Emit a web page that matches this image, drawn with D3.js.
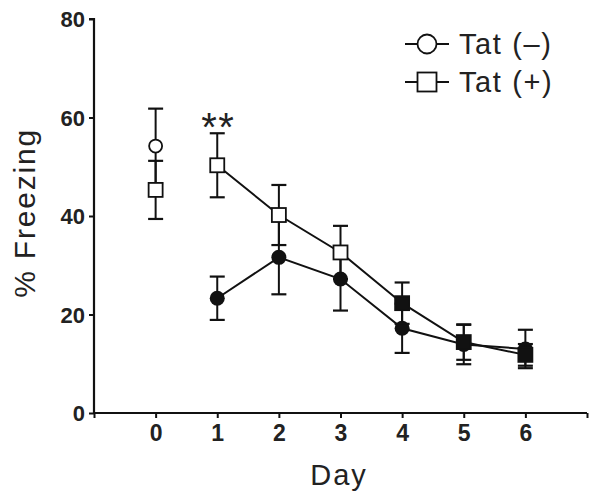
<!DOCTYPE html>
<html>
<head>
<meta charset="utf-8">
<script src="https://cdn.jsdelivr.net/npm/d3@7"></script>
<style>
  html, body { margin: 0; padding: 0; background: #fff; }
  svg { display: block; }
</style>
</head>
<body>
<svg id="chart" width="600" height="499"></svg>
<script>
// ---- Data ----
const days = [0, 1, 2, 3, 4, 5, 6];
const xTickLabels = ["0", "1", "2", "3", "4", "5", "6"];
const yTickValues = [0, 20, 40, 60, 80];
const seriesNames = ["Tat (\u2013)", "Tat (+)"];
const tatMinusMean = [54.2, 23.3, 31.6, 27.2, 17.2, 13.9, 13.0];
const tatMinusSem  = [7.6, 4.4, 7.5, 6.4, 5.0, 4.0, 3.9];
const tatPlusMean  = [45.3, 50.3, 40.2, 32.6, 22.3, 14.4, 11.8];
const tatPlusSem   = [5.9, 6.5, 6.1, 5.4, 4.2, 3.6, 2.2];
const tatMinusOpenDays = [0];
const tatPlusOpenDays = [0, 1, 2, 3];
const lineStartDay = 1;
const annotationDay = 1;
const annotationText = "**";

// ---- Layout ----
const svg = d3.select("#chart");
const x = d3.scaleLinear().domain([-1, 7]).range([94, 587]);
const y = d3.scaleLinear().domain([0, 80]).range([413, 19]);
const ink = "#111";
const textInk = "#222";
const font = "Liberation Sans, Arial, sans-serif";

// axes
const yAxis = d3.axisLeft(y).tickValues(yTickValues).tickSize(5).tickPadding(4).tickFormat(d3.format("d"));
const gy = svg.append("g").attr("transform", `translate(${x(-1)},0)`).call(yAxis);
gy.select(".domain").attr("stroke", ink).attr("stroke-width", 2.2).attr("d", `M-5,${y(80)}H0V${y(0)}`);
gy.selectAll(".tick line").attr("stroke", ink).attr("stroke-width", 2);
gy.selectAll(".tick text").attr("fill", textInk).attr("font-family", font)
  .attr("font-weight", "bold").attr("font-size", 22).attr("dy", "0.36em");

const xAxis = d3.axisBottom(x).tickValues([-1, ...days, 7]).tickSize(5).tickPadding(7)
  .tickFormat(d => { const i = days.indexOf(d); return i >= 0 ? xTickLabels[i] : ""; });
const gx = svg.append("g").attr("transform", `translate(0,${y(0)})`).call(xAxis);
gx.select(".domain").attr("stroke", ink).attr("stroke-width", 2.2).attr("d", `M${x(-1)},0H${x(7)}`);
gx.selectAll(".tick line").attr("stroke", ink).attr("stroke-width", 2);
gx.selectAll(".tick text").attr("fill", textInk).attr("font-family", font)
  .attr("font-weight", "bold").attr("font-size", 23);

// axis titles
svg.append("text").attr("transform", `translate(35,213) rotate(-90)`)
  .attr("text-anchor", "middle").attr("fill", textInk)
  .attr("font-family", font).attr("font-size", 30)
  .attr("letter-spacing", 1.8).text("% Freezing");
svg.append("text").attr("x", 339).attr("y", 485)
  .attr("text-anchor", "middle").attr("fill", textInk)
  .attr("font-family", font).attr("font-size", 29)
  .attr("letter-spacing", 2).text("Day");

// series drawing
function drawSeries(means, sems, openDays, shape) {
  const pts = days.map((d, i) => ({ d, m: means[i], s: sems[i], open: openDays.includes(d) }));
  const g = svg.append("g");
  const line = d3.line().x(p => x(p.d)).y(p => y(p.m));
  g.append("path").datum(pts.filter(p => p.d >= lineStartDay)).attr("d", line)
    .attr("fill", "none").attr("stroke", ink).attr("stroke-width", 2);
  const eb = g.selectAll(".eb").data(pts).join("g");
  eb.append("line").attr("x1", p => x(p.d)).attr("x2", p => x(p.d))
    .attr("y1", p => y(p.m - p.s)).attr("y2", p => y(p.m + p.s))
    .attr("stroke", ink).attr("stroke-width", 2);
  [1, -1].forEach(sg => {
    eb.append("line").attr("x1", p => x(p.d) - 7.5).attr("x2", p => x(p.d) + 7.5)
      .attr("y1", p => y(p.m + sg * p.s)).attr("y2", p => y(p.m + sg * p.s))
      .attr("stroke", ink).attr("stroke-width", 2.2);
  });
  if (shape === "circle") {
    g.selectAll(".mk").data(pts).join("circle")
      .attr("cx", p => x(p.d)).attr("cy", p => y(p.m))
      .attr("r", p => p.open ? 6.5 : 7.5)
      .attr("fill", p => p.open ? "#fff" : ink).attr("stroke", ink).attr("stroke-width", p => p.open ? 1.8 : 0);
  } else {
    g.selectAll(".mk").data(pts).join("rect")
      .attr("x", p => x(p.d) - 7).attr("y", p => y(p.m) - 7)
      .attr("width", 14).attr("height", 14)
      .attr("fill", p => p.open ? "#fff" : ink).attr("stroke", ink).attr("stroke-width", 1.8);
  }
}
drawSeries(tatMinusMean, tatMinusSem, tatMinusOpenDays, "circle");
drawSeries(tatPlusMean, tatPlusSem, tatPlusOpenDays, "square");

// significance annotation
const ai = days.indexOf(annotationDay);
svg.append("text").attr("x", x(annotationDay) + 1).attr("y", y(tatPlusMean[ai] + tatPlusSem[ai]) + 8)
  .attr("text-anchor", "middle").attr("fill", textInk)
  .attr("font-family", font).attr("font-size", 40)
  .attr("letter-spacing", 1.5).text(annotationText);

// legend
const legendRows = [{ name: seriesNames[0], shape: "circle", cy: 44 }, { name: seriesNames[1], shape: "square", cy: 82 }];
const lg = svg.append("g");
legendRows.forEach(r => {
  lg.append("line").attr("x1", 405).attr("x2", 449).attr("y1", r.cy).attr("y2", r.cy)
    .attr("stroke", ink).attr("stroke-width", 2);
  if (r.shape === "circle") {
    lg.append("circle").attr("cx", 427).attr("cy", r.cy).attr("r", 9.5)
      .attr("fill", "#fff").attr("stroke", ink).attr("stroke-width", 1.8);
  } else {
    lg.append("rect").attr("x", 417.5).attr("y", r.cy - 9.5).attr("width", 19).attr("height", 19)
      .attr("fill", "#fff").attr("stroke", ink).attr("stroke-width", 1.8);
  }
  lg.append("text").attr("x", 459).attr("y", r.cy + 10).attr("fill", textInk)
    .attr("font-family", font).attr("font-size", 29)
    .attr("letter-spacing", 1.6).text(r.name);
});
</script>
</body>
</html>
